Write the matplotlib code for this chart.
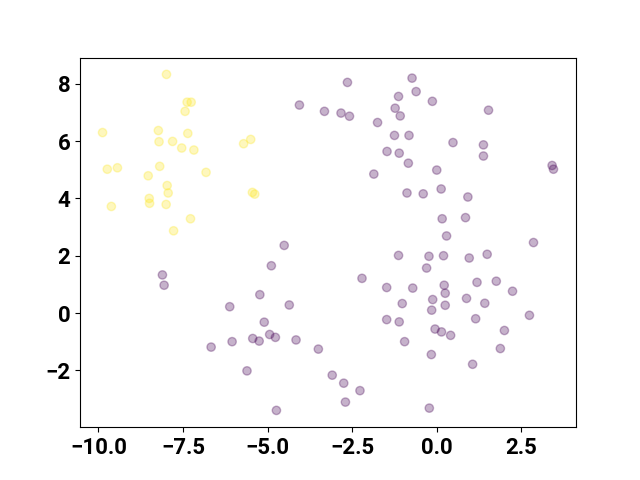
import matplotlib
matplotlib.use("Agg")
import matplotlib.pyplot as plt
from matplotlib.ticker import MultipleLocator
import numpy as np

plt.rcParams['font.family'] = ['Roboto', 'DejaVu Sans']
plt.rcParams['font.weight'] = 'bold'

yellow_x = [-7.99, -7.38, -7.26, -7.44, -9.88, -8.23, -7.36, -8.21, -7.81, -7.54,
            -7.18, -5.71, -5.50, -9.74, -9.44, -8.19, -8.53, -6.82, -7.97, -7.94,
            -8.50, -8.49, -8.00, -5.45, -5.38, -9.62, -7.28, -7.78]
yellow_y = [8.33, 7.36, 7.36, 7.04, 6.30, 6.37, 6.27, 5.98, 5.99, 5.76,
            5.69, 5.91, 6.06, 5.02, 5.07, 5.12, 4.79, 4.91, 4.45, 4.19,
            4.00, 3.83, 3.79, 4.21, 4.15, 3.72, 3.29, 2.87]

purple_x = [-4.51, -4.89, -2.21, -5.23, -6.12, -4.36, -5.10, -5.44, -5.25, -4.94,
            -4.77, -4.16, -6.05, -6.67, -3.50, -5.61, -3.09, -2.75, -2.27, -2.70,
            -4.74,
            -2.64, -0.73, -0.61, -1.13, -0.13, -4.06, -3.32, -2.83, -2.58, -1.23,
            -1.08, -1.75, -1.25, -0.82, 0.48, -1.47, -1.11, -0.84, 0.00, -1.86,
            -0.88, -0.40, 0.13, 0.92, 0.16, 0.85, 0.29,
            1.53, 1.38, 1.38, 3.41, 3.45, 2.86,
            -1.13, -0.23, 0.20, 0.96, 1.49, -0.30, -1.48, -0.71, 0.22, 0.25,
            1.19, 1.76, 2.24, -1.02, -0.12, -0.15, 0.25, 0.88, 1.42, 2.74,
            -1.48, -1.11, 1.15, -0.05, 0.14, 0.41, 2.00, -0.95, -0.16, 1.88,
            1.06, -0.22,
            -8.11, -8.06]
purple_y = [2.36, 1.65, 1.21, 0.64, 0.22, 0.28, -0.32, -0.89, -0.98, -0.75,
            -0.85, -0.94, -1.00, -1.19, -1.26, -2.02, -2.17, -2.45, -2.71, -3.11,
            -3.40,
            8.05, 8.20, 7.73, 7.56, 7.39, 7.26, 7.04, 6.98, 6.87, 7.15,
            6.88, 6.65, 6.20, 6.20, 5.95, 5.64, 5.58, 5.23, 4.99, 4.85,
            4.19, 4.16, 4.33, 4.05, 3.29, 3.33, 2.69,
            7.08, 5.87, 5.48, 5.15, 5.02, 2.46,
            2.01, 1.98, 2.00, 1.92, 2.05, 1.57, 0.89, 0.87, 0.97, 0.69,
            1.07, 1.11, 0.76, 0.33, 0.47, 0.10, 0.27, 0.51, 0.34, -0.08,
            -0.23, -0.31, -0.20, -0.56, -0.66, -0.78, -0.61, -1.00, -1.45, -1.24,
            -1.79, -3.32,
            1.33, 0.97]

x = np.array(purple_x + yellow_x)
y = np.array(purple_y + yellow_y)
labels = np.array([0] * len(purple_x) + [1] * len(yellow_x))

fig, ax = plt.subplots(figsize=(6.4, 4.8), dpi=100)
ax.scatter(x, y, c=labels, cmap='viridis', alpha=0.3)
ax.xaxis.set_major_locator(MultipleLocator(2.5))
ax.yaxis.set_major_locator(MultipleLocator(2))
ax.tick_params(labelsize=16)
for lab in ax.get_xticklabels() + ax.get_yticklabels():
    lab.set_fontweight('bold')
fig.savefig('out.png')
